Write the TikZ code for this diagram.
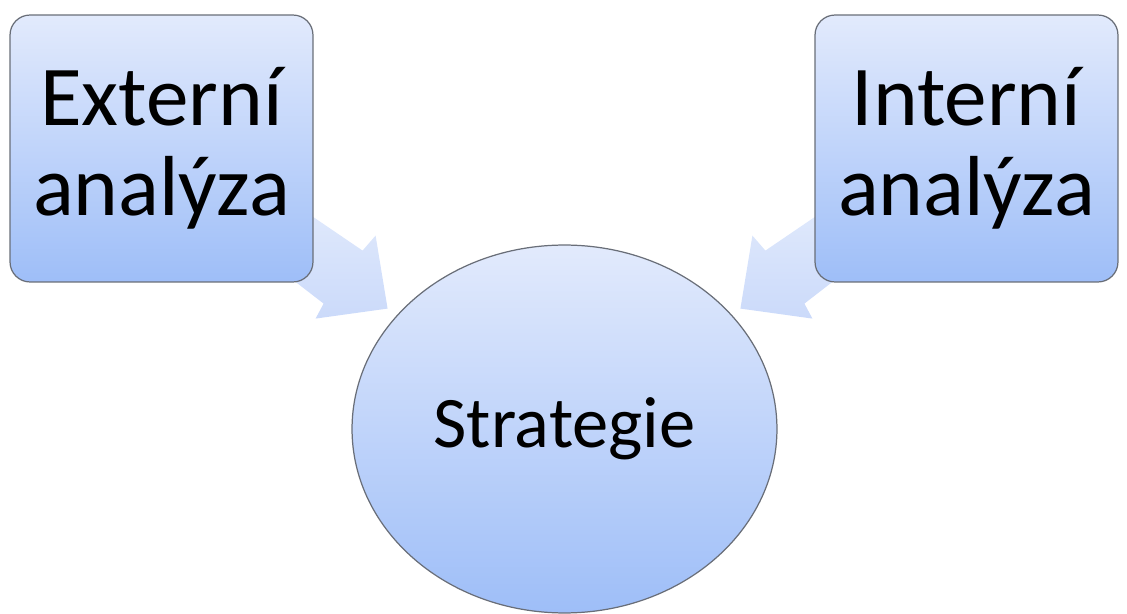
\documentclass[tikz,border=0pt]{standalone}
\usepackage{fontspec}
\setmainfont{Carlito}
\usetikzlibrary{shapes.geometric}

\definecolor{boxtop}{RGB}{226,234,252}
\definecolor{boxbot}{RGB}{158,190,248}
\definecolor{arrtop}{RGB}{225,234,252}
\definecolor{arrbot}{RGB}{203,218,250}
\definecolor{edgegray}{RGB}{105,110,120}
\pgfdeclarelayer{back}
\pgfsetlayers{back,main}

\begin{document}
\begin{tikzpicture}[x=0.02cm,y=0.02cm,
  anabox/.style={draw=edgegray, line width=0.7pt, rounded corners=0.4cm,
    top color=boxtop, bottom color=boxbot, minimum width=6.06cm,
    minimum height=5.34cm, inner sep=0pt, align=center,
    font=\fontsize{48.5}{51}\selectfont},
  goal/.style={ellipse, draw=edgegray, line width=0.7pt,
    top color=boxtop, bottom color=boxbot, minimum width=8.5cm,
    minimum height=7.36cm, inner sep=0pt, font=\fontsize{41.3}{48}\selectfont},
  blockarrow/.style={top color=arrtop, bottom color=arrbot}]
  \useasboundingbox (0,0) rectangle (1127,613); % 全体の大きさ
  \node[anabox] (ext) at (161.5,464.5) {Externí\\analýza}; % 左上の箱
  \node[anabox] (int) at (966.5,464.5) {Interní\\analýza}; % 右上の箱
  \node[goal] (strat) at (564.5,184) {Strategie}; % 中央下の楕円
  \begin{pgfonlayer}{back}
    \shade[blockarrow, shift={(ext.south east)}] (-23,81) -- (49,32) -- (62,47) -- (74,-26) -- (2,-36) -- (10,-21) -- (-43,20) -- cycle; % 左の箱から楕円への太い矢印
    \shade[blockarrow, shift={(int.south west)}, xscale=-1] (-23,81) -- (49,32) -- (62,47) -- (74,-26) -- (2,-36) -- (10,-21) -- (-43,20) -- cycle; % 右の箱から楕円への太い矢印
  \end{pgfonlayer}
\end{tikzpicture}
\end{document}
